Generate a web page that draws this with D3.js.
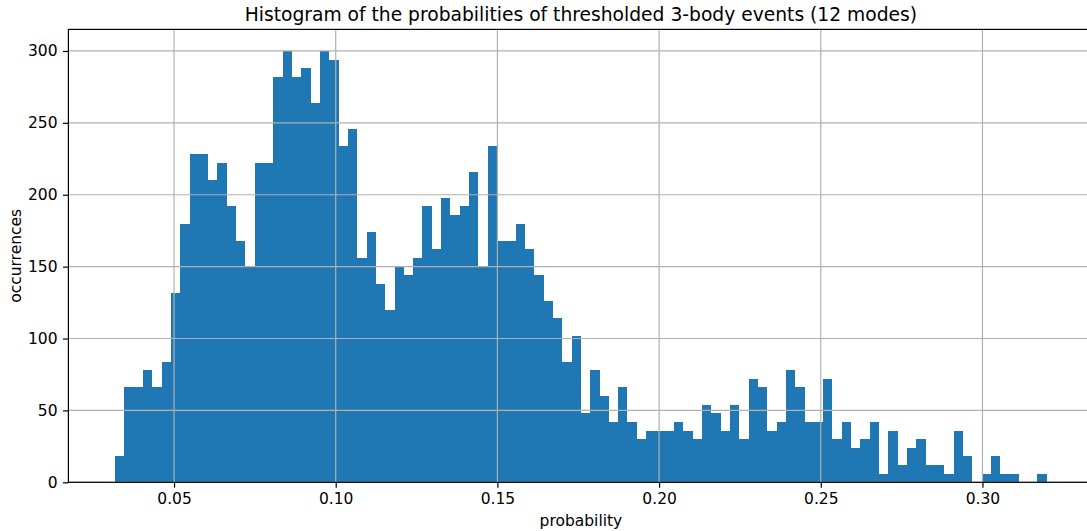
<!DOCTYPE html>
<html>
<head>
<meta charset="utf-8">
<script src="https://cdn.jsdelivr.net/npm/d3@7"></script>
<style>
  html, body { margin: 0; padding: 0; background: #fff; overflow: hidden; }
  svg { display: block; font-family: "DejaVu Sans", sans-serif; }
</style>
</head>
<body>
<svg id="chart" width="1087" height="531"></svg>
<script>
// Histogram: 100 equal-width bins between the smallest and largest probability
const binRange = [0.03174, 0.31990];
const binCount = 100;
const counts = [
  18, 66, 66, 78, 66, 84, 132, 180, 228, 228,
  210, 222, 192, 168, 150, 222, 222, 282, 300, 282,
  288, 264, 300, 294, 234, 246, 156, 174, 138, 120,
  150, 144, 156, 192, 162, 198, 186, 192, 216, 150,
  234, 168, 168, 180, 162, 144, 126, 114, 84, 102,
  48, 78, 60, 42, 66, 42, 30, 36, 36, 36,
  42, 36, 30, 54, 48, 36, 54, 30, 72, 66,
  36, 42, 78, 66, 42, 42, 72, 30, 42, 24,
  30, 42, 6, 36, 12, 24, 30, 12, 12, 6,
  36, 18, 0, 6, 18, 6, 6, 0, 0, 6
];
const xTicks = [0.05, 0.10, 0.15, 0.20, 0.25, 0.30];
const yTicks = [0, 50, 100, 150, 200, 250, 300];

const titleText = "Histogram of the probabilities of thresholded 3-body events (12 modes)";
const xLabel = "probability";
const yLabel = "occurrences";

const svg = d3.select("#chart");

const plotLeft = 68.4, plotRight = 1093.4, plotTop = 29.4, plotBottom = 482.3;
const tickFont = "15.5px", titleFont = "18.7px";
const lineW = 1.2, tickLen = 5.4;

const binWidth = (binRange[1] - binRange[0]) / binCount;
const bins = counts.map((c, i) => ({
  x0: binRange[0] + i * binWidth,
  x1: binRange[0] + (i + 1) * binWidth,
  count: c
}));

// 5% padding on both sides of the data span, like the usual autoscale
const pad = (binRange[1] - binRange[0]) * 0.05;
const x = d3.scaleLinear()
  .domain([binRange[0] - pad, binRange[1] + pad])
  .range([plotLeft, plotRight]);
const yMax = d3.max(counts) * 1.05;
const y = d3.scaleLinear()
  .domain([0, yMax])
  .range([plotBottom, plotTop]);

// bars, snapped to whole pixels so neighbours meet without seams
svg.append("g")
  .attr("shape-rendering", "crispEdges")
  .selectAll("rect")
  .data(bins.filter(d => d.count > 0))
  .join("rect")
  .attr("x", d => Math.round(x(d.x0)))
  .attr("width", d => Math.round(x(d.x1)) - Math.round(x(d.x0)))
  .attr("y", d => Math.round(y(d.count)))
  .attr("height", d => Math.round(y(0)) - Math.round(y(d.count)))
  .attr("fill", "#1f77b4");

// grid lines drawn over the bars
const grid = svg.append("g").attr("stroke", "#b0b0b0").attr("stroke-width", lineW);
grid.selectAll("line.vx")
  .data(xTicks)
  .join("line")
  .attr("class", "vx")
  .attr("x1", d => x(d)).attr("x2", d => x(d))
  .attr("y1", plotTop).attr("y2", plotBottom);
grid.selectAll("line.hy")
  .data(yTicks)
  .join("line")
  .attr("class", "hy")
  .attr("x1", plotLeft).attr("x2", plotRight)
  .attr("y1", d => y(d)).attr("y2", d => y(d));

// axes
const xAxis = d3.axisBottom(x)
  .tickValues(xTicks)
  .tickFormat(d3.format(".2f"))
  .tickSize(tickLen)
  .tickPadding(tickLen);
const yAxis = d3.axisLeft(y)
  .tickValues(yTicks)
  .tickFormat(d3.format("d"))
  .tickSize(tickLen)
  .tickPadding(tickLen);

const gx = svg.append("g")
  .attr("transform", `translate(0,${plotBottom})`)
  .call(xAxis);
const gy = svg.append("g")
  .attr("transform", `translate(${plotLeft},0)`)
  .call(yAxis);

[gx, gy].forEach(g => {
  g.select(".domain").remove();
  g.selectAll(".tick line").attr("stroke", "#000").attr("stroke-width", lineW);
  g.selectAll(".tick text")
    .attr("fill", "#000")
    .style("font-size", tickFont)
    .style("font-family", "DejaVu Sans, sans-serif");
});

// frame
svg.append("rect")
  .attr("x", plotLeft).attr("y", plotTop)
  .attr("width", plotRight - plotLeft).attr("height", plotBottom - plotTop)
  .attr("fill", "none")
  .attr("stroke", "#000")
  .attr("stroke-width", lineW);

// title and axis labels
svg.append("text")
  .attr("x", (plotLeft + plotRight) / 2)
  .attr("y", 21)
  .attr("text-anchor", "middle")
  .style("font-size", titleFont)
  .text(titleText);

svg.append("text")
  .attr("x", (plotLeft + plotRight) / 2)
  .attr("y", 526)
  .attr("text-anchor", "middle")
  .style("font-size", tickFont)
  .text(xLabel);

svg.append("text")
  .attr("transform", `translate(20.5,${(plotTop + plotBottom) / 2}) rotate(-90)`)
  .attr("text-anchor", "middle")
  .style("font-size", tickFont)
  .text(yLabel);
</script>
</body>
</html>
